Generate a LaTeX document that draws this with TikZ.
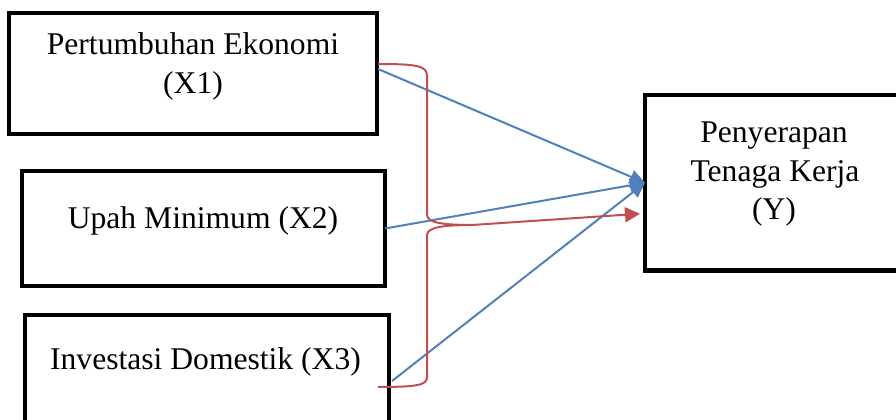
\documentclass[tikz,border=0pt]{standalone}
\usepackage{fontspec}
\setmainfont{Liberation Serif}
\usetikzlibrary{arrows.meta,calc}
\definecolor{wblue}{HTML}{4F81BD}
\definecolor{wred}{HTML}{C0504D}
\begin{document}
\begin{tikzpicture}[x=0.75pt,y=-0.75pt,
  box/.style={draw=black, line width=3.5pt, inner sep=0pt, outer sep=0pt},
  lbl/.style={font=\fontsize{23.7}{28}\selectfont, inner sep=0pt, anchor=base},
  barrow/.style={draw=wblue, line width=1.5pt, -{Triangle[length=11.25pt,width=10.5pt]}},
  rline/.style={draw=wred, line width=1.5pt},
  rarrow/.style={rline, -{Triangle[length=11.25pt,width=11.25pt]}}]
\useasboundingbox (0,0) rectangle (896,420);
\clip (0,0) rectangle (896,420);

% boxes
\node[box, minimum width=276pt, minimum height=90.75pt] (x1) at (193,73.5) {};
\node[box, minimum width=272.25pt, minimum height=86.25pt] (x2) at (203.5,228.5) {};
\node[box, minimum width=273pt, minimum height=99pt] (x3) at (207,381) {};
\node[box, minimum width=193.5pt, minimum height=131.6pt] (y) at (774,182.75) {};

% labels
\node[lbl] (t1a) at (193,55) {Pertumbuhan Ekonomi};
\node[lbl] (t1b) at (193,94) {(X1)};
\node[lbl] (t2) at (203,229) {Upah Minimum (X2)};
\node[lbl] (t3) at (205.5,369) {Investasi Domestik (X3)};
\node[lbl] (ty1) at (774,143) {Penyerapan};
\node[lbl] (ty2) at (775,182) {Tenaga Kerja};
\node[lbl] (ty3) at (774,220) {(Y)};

% blue arrows
\draw[barrow] ($(x1.east)+(1,-4.5)$) -- (y.west);
\draw[barrow] (x2.east) -- (y.west);
\draw[barrow] ($(x3.east)+(3,0)$) -- (y.west);

% red brace and arrow
\coordinate (bt) at ($(x1.east)+(1,-9.5)$);
\coordinate (bb) at ($(x3.east)+(-11,6)$);
\coordinate (tip) at (472,225);
\coordinate (rend) at ($(y.west)+(-5,31)$);
\draw[rline] (bt) .. controls (418,64) and (427,66) .. (427,76)
  -- (427,215) .. controls (427,223) and (445,225) .. (tip)
  .. controls (445,225) and (427,227) .. (427,235)
  -- (427,377) .. controls (427,385) and (418,387) .. (bb);
\draw[rarrow] (tip) -- (rend);
\end{tikzpicture}
\end{document}
